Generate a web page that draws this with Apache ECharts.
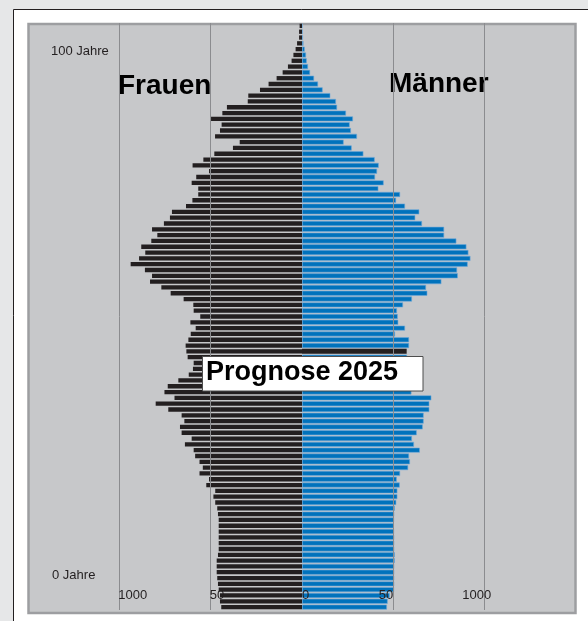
<!DOCTYPE html>
<html>
<head>
<meta charset="utf-8">
<script src="https://cdn.jsdelivr.net/npm/echarts@6/dist/echarts.min.js"></script>
<style>
  html, body { margin: 0; padding: 0; background: #e6e7e8; }
  #chart { width: 588px; height: 621px; }
</style>
</head>
<body>
<div id="chart"></div>
<script>
// Altersjahre von oben (100) nach unten (0)
const ages = [
  100, 99, 98, 97, 96, 95, 94, 93, 92, 91, 90, 89, 88, 87, 86, 85, 84, 83, 82, 81,
  80, 79, 78, 77, 76, 75, 74, 73, 72, 71, 70, 69, 68, 67, 66, 65, 64, 63, 62, 61,
  60, 59, 58, 57, 56, 55, 54, 53, 52, 51, 50, 49, 48, 47, 46, 45, 44, 43, 42, 41,
  40, 39, 38, 37, 36, 35, 34, 33, 32, 31, 30, 29, 28, 27, 26, 25, 24, 23, 22, 21,
  20, 19, 18, 17, 16, 15, 14, 13, 12, 11, 10, 9, 8, 7, 6, 5, 4, 3, 2, 1, 0
]

const frauen = [
  13, 16, 16, 27, 35, 47, 57, 77, 106, 139, 183, 230, 294, 297, 411, 436, 498, 440, 449, 476,
  341, 378, 480, 540, 599, 509, 579, 604, 568, 568, 600, 635, 712, 723, 756, 821, 792, 825, 880, 858,
  892, 938, 860, 821, 832, 770, 719, 648, 595, 593, 557, 611, 582, 609, 622, 637, 633, 626, 593, 597,
  620, 677, 735, 753, 698, 801, 732, 659, 644, 668, 659, 604, 641, 593, 585, 561, 543, 561, 509, 524,
  475, 485, 475, 464, 460, 456, 456, 456, 456, 456, 456, 460, 467, 467, 467, 464, 460, 456, 449, 449, 442
]

const maenner = [
  3, 4, 5, 8, 15, 22, 26, 33, 44, 66, 88, 113, 155, 186, 192, 241, 279, 261, 268, 301,
  228, 272, 336, 398, 420, 411, 400, 447, 418, 537, 515, 564, 642, 620, 657, 778, 778, 845, 900, 911,
  922, 907, 849, 853, 763, 679, 686, 602, 553, 520, 524, 527, 564, 509, 586, 586, 573, 575, 560, 565,
  590, 615, 640, 599, 708, 697, 697, 666, 666, 661, 628, 602, 613, 645, 586, 591, 581, 537, 519, 535,
  522, 522, 516, 508, 505, 504, 502, 504, 505, 505, 505, 508, 508, 505, 505, 505, 505, 504, 480, 469, 465
]

const gridValues = [-1000, -500, 500, 1000]
const tickValues = [-1000, -500, 0, 500, 1000]
const tickLabels = ['1000', '50', '0', '50', '1000']

// im Original ist ein Männer-Balken (Alter 44) dunkel
const darkAge = 44

const font = "'Liberation Sans', Arial, Helvetica, sans-serif"
const ink = '#231f20'

const chart = echarts.init(document.getElementById('chart'))

chart.setOption({
  backgroundColor: '#e6e7e8',
  animation: false,
  grid: { left: 28, right: 12, top: 23, bottom: 11 },
  xAxis: {
    type: 'value',
    min: -1500,
    max: 1500,
    interval: 500,
    axisLine: { show: false },
    axisTick: { show: false },
    axisLabel: { show: false },
    splitLine: { show: false },
  },
  yAxis: [
    { type: 'category', data: ages, inverse: true, show: false },
    { type: 'category', data: ages, inverse: true, show: false },
  ],
  graphic: [
    {
      type: 'rect', z: -10, silent: true,
      shape: { x: 13.5, y: 9.5, width: 700, height: 700 },
      style: { fill: '#ffffff', stroke: ink, lineWidth: 1 },
    },
    {
      type: 'rect', z: -5, silent: true,
      shape: { x: 28.5, y: 24, width: 547, height: 589 },
      style: { fill: '#c7c8ca', stroke: '#9d9ea1', lineWidth: 2.5 },
    },
    {
      type: 'text', left: 51, top: 45,
      style: { text: '100 Jahre', font: '13px ' + font, fill: ink },
    },
    {
      type: 'text', left: 52, top: 569,
      style: { text: '0 Jahre', font: '13px ' + font, fill: ink },
    },
    {
      type: 'text', x: 118, y: 86,
      style: { text: 'Frauen', font: 'bold 28px ' + font, fill: '#000', verticalAlign: 'middle' },
    },
    {
      type: 'text', x: 389, y: 84,
      style: { text: 'Männer', font: 'bold 28px ' + font, fill: '#000', verticalAlign: 'middle' },
    },
    {
      type: 'rect', z: 50,
      shape: { x: 202.5, y: 356.5, width: 220.5, height: 34.5 },
      style: { fill: '#ffffff', stroke: '#4d4d4d', lineWidth: 1 },
    },
    {
      type: 'text', z: 51, x: 206, y: 373,
      style: { text: 'Prognose 2025', font: 'bold 27px ' + font, fill: '#000', verticalAlign: 'middle' },
    },
  ],
  series: [
    {
      name: 'Männer',
      type: 'bar',
      yAxisIndex: 1,
      barWidth: '86%',
      data: maenner.map((v, i) =>
        ages[i] === darkAge ? { value: v, itemStyle: { color: ink, borderWidth: 0 } } : v
      ),
      itemStyle: { color: '#0072bc', borderColor: '#6ea9da', borderWidth: 0.6 },
    },
    {
      name: 'Frauen',
      type: 'bar',
      yAxisIndex: 0,
      barWidth: '74%',
      data: frauen.map(v => -v),
      itemStyle: { color: ink },
      markLine: {
        silent: true,
        symbol: 'none',
        label: { show: false },
        lineStyle: { color: '#8b8c8f', width: 1, type: 'solid' },
        data: gridValues.map(v => ({ xAxis: v })),
      },
    },
  ],
})

// Achsenbeschriftung unten, Positionen über die x-Achse
const labelAlign = ['left', 'left', 'left', 'right', 'center']
const labelNudge = [-1, -1, 0, 0, -8]
const tickGraphics = tickValues.map((v, i) => ({
  type: 'text',
  z: 60,
  x: chart.convertToPixel({ xAxisIndex: 0 }, v) + labelNudge[i],
  y: 595,
  style: {
    text: tickLabels[i],
    font: '13px ' + font,
    fill: ink,
    align: labelAlign[i],
    verticalAlign: 'middle',
  },
}))

chart.setOption({ graphic: chart.getOption().graphic[0].elements.concat(tickGraphics) })
</script>
</body>
</html>
